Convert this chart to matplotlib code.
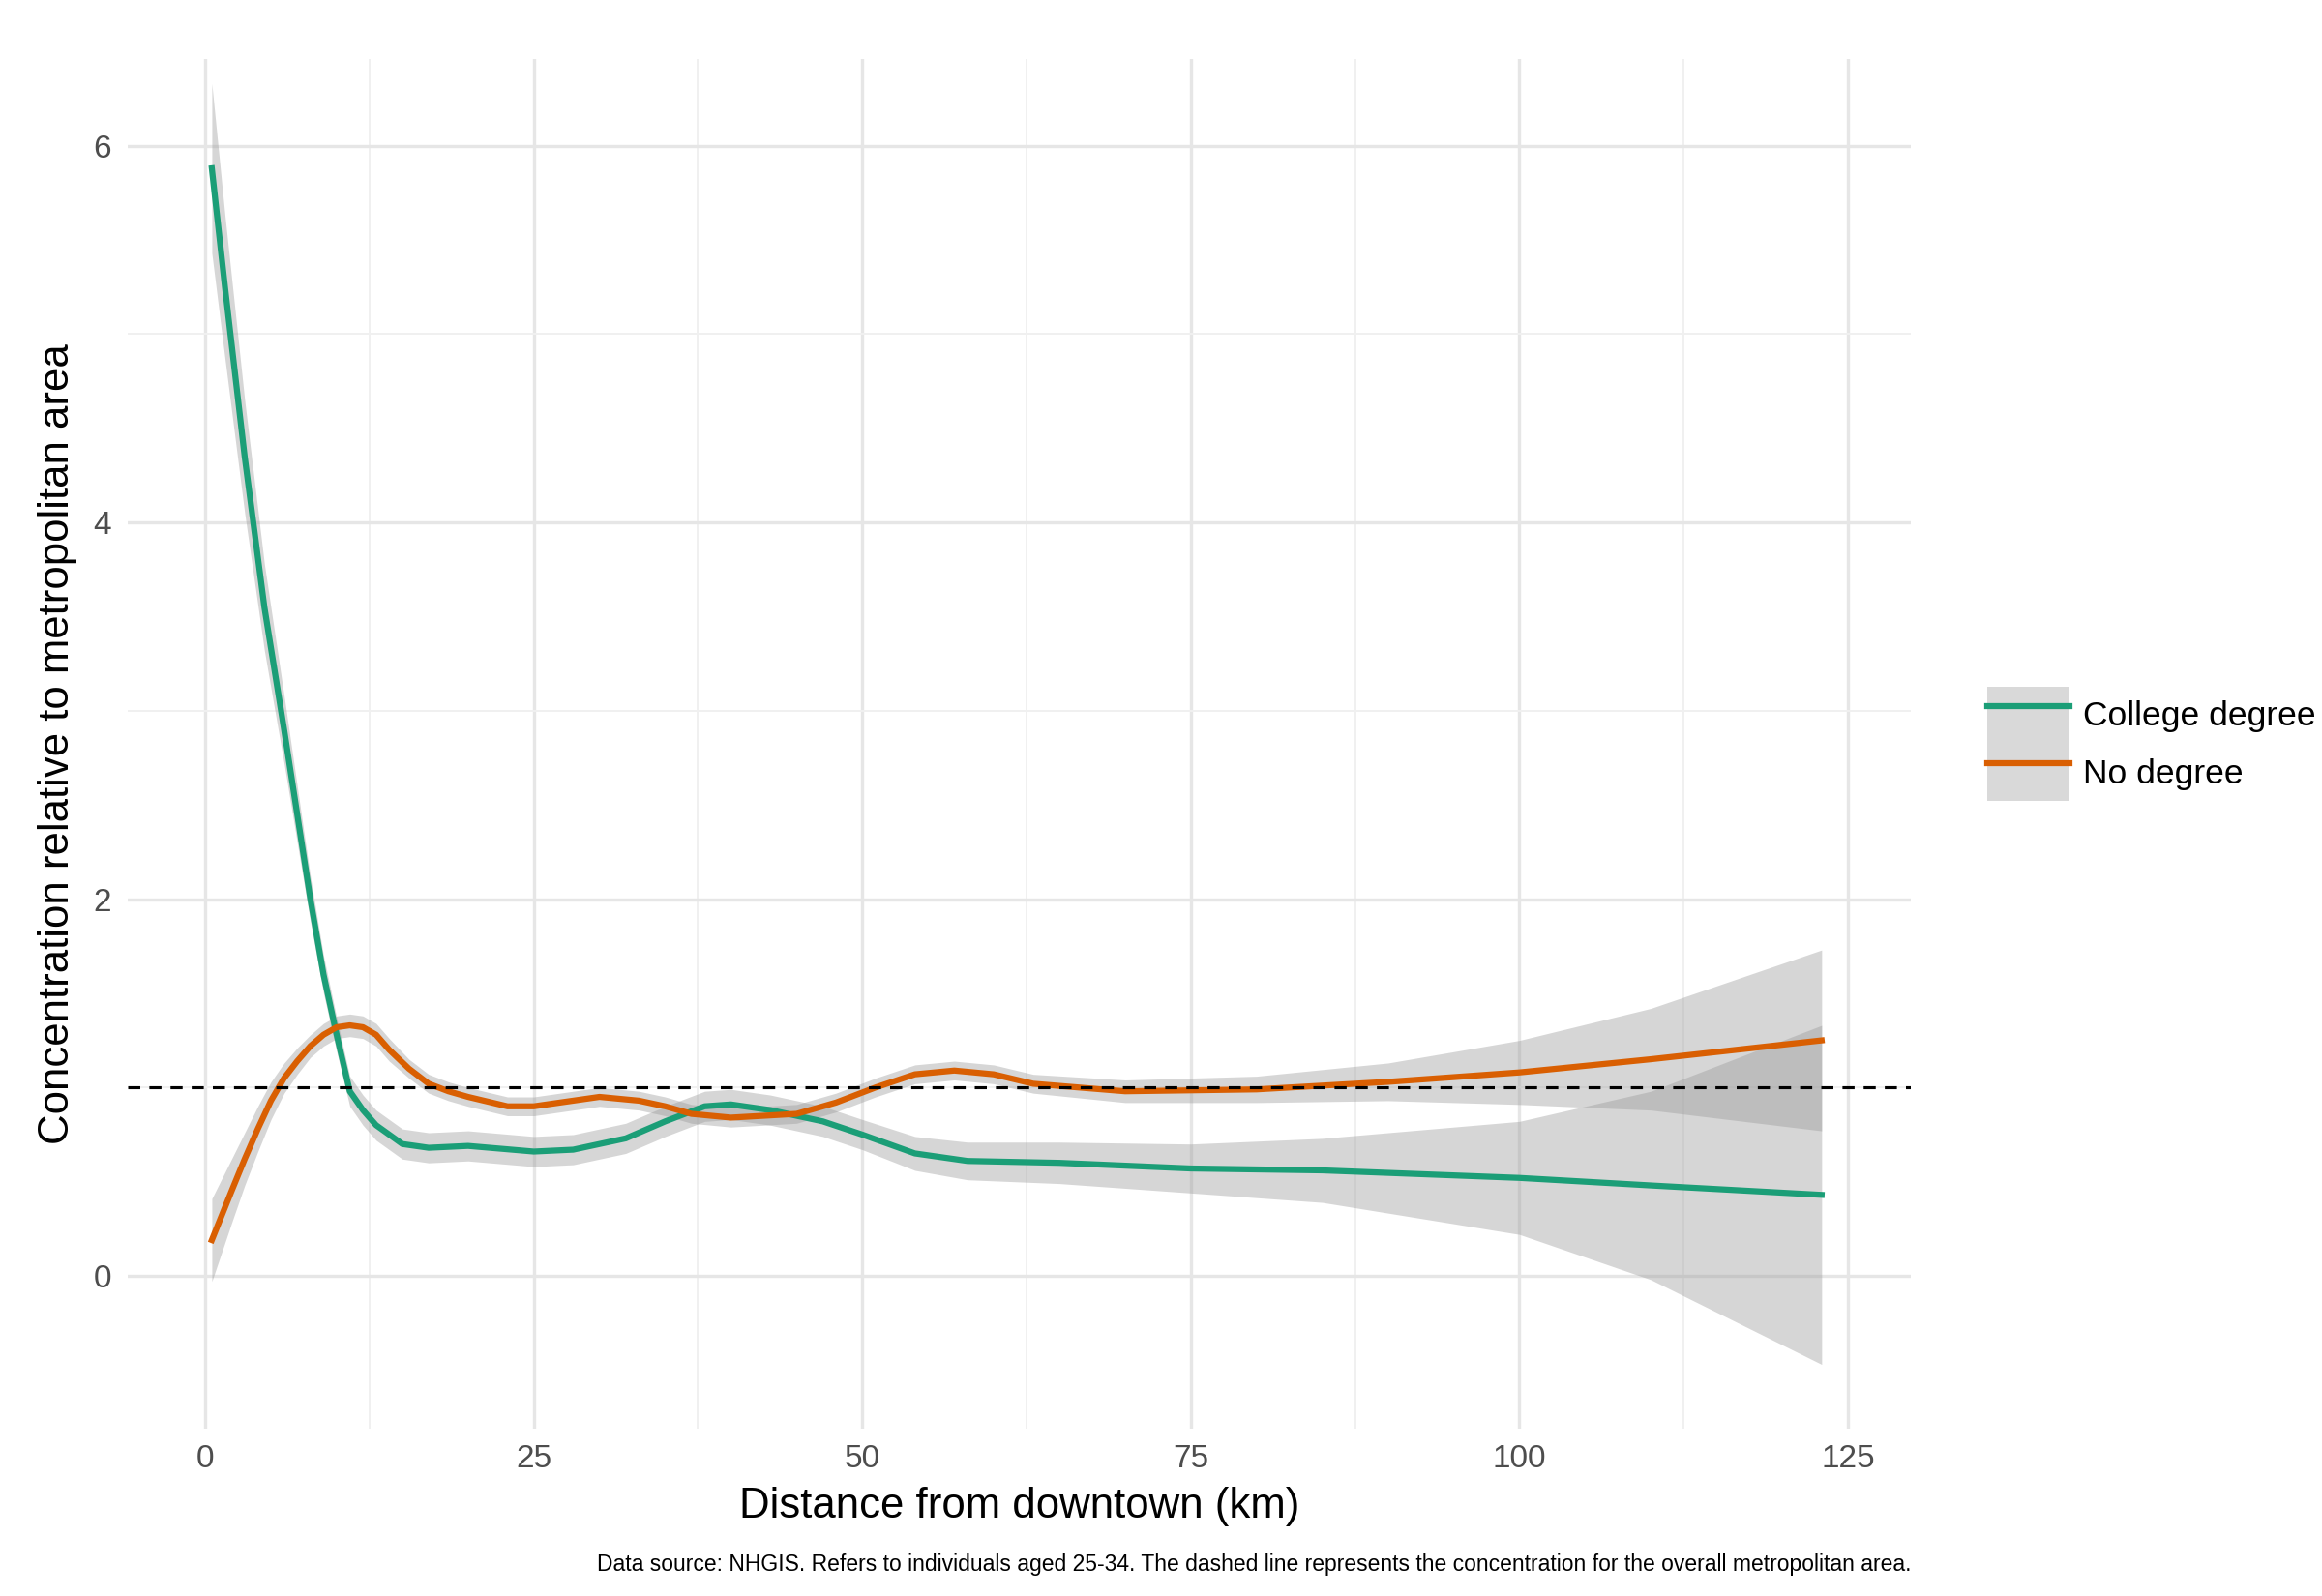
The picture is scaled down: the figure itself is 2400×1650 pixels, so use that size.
import numpy as np
import matplotlib.pyplot as plt
from matplotlib.patches import Patch
from matplotlib.lines import Line2D

plt.rcParams['font.family'] = ['Liberation Sans', 'DejaVu Sans']

# college degree smooth
col_x = [0.5, 1.5, 3, 4.5, 6, 7, 8, 9, 10, 11, 12, 13, 15, 17, 20, 25, 28, 32, 35, 38, 40, 43, 47, 50, 54, 58, 65, 75, 85, 100, 110, 123]
col_y = [5.88, 5.25, 4.35, 3.55, 2.9, 2.45, 2.0, 1.6, 1.28, 0.98, 0.88, 0.8, 0.7, 0.68, 0.69, 0.66, 0.67, 0.73, 0.82, 0.9, 0.91, 0.88, 0.82, 0.75, 0.65, 0.61, 0.6, 0.57, 0.56, 0.52, 0.48, 0.43]
col_se = [0.45, 0.38, 0.3, 0.23, 0.18, 0.15, 0.12, 0.1, 0.09, 0.08, 0.08, 0.08, 0.08, 0.08, 0.08, 0.08, 0.08, 0.08, 0.08, 0.08, 0.08, 0.08, 0.08, 0.08, 0.09, 0.1, 0.11, 0.13, 0.17, 0.3, 0.5, 0.9]

# no degree smooth
nod_x = [0.5, 2, 3, 4, 5, 6, 7, 8, 9, 10, 11, 12, 13, 14, 15.5, 17, 18.5, 20, 23, 25, 28, 30, 33, 35, 37, 40, 45, 48, 51, 54, 57, 60, 63, 70, 80, 90, 100, 110, 123]
nod_y = [0.19, 0.45, 0.62, 0.78, 0.93, 1.05, 1.14, 1.22, 1.28, 1.32, 1.33, 1.32, 1.28, 1.2, 1.1, 1.02, 0.98, 0.95, 0.9, 0.9, 0.93, 0.95, 0.93, 0.9, 0.86, 0.84, 0.86, 0.92, 1.0, 1.07, 1.09, 1.07, 1.02, 0.98, 0.99, 1.03, 1.08, 1.15, 1.25]
nod_se = [0.22, 0.17, 0.14, 0.12, 0.1, 0.08, 0.07, 0.06, 0.06, 0.06, 0.06, 0.06, 0.06, 0.06, 0.05, 0.05, 0.05, 0.05, 0.05, 0.05, 0.05, 0.05, 0.05, 0.05, 0.05, 0.05, 0.05, 0.05, 0.05, 0.05, 0.05, 0.05, 0.05, 0.06, 0.07, 0.1, 0.17, 0.27, 0.48]

GREEN = '#1B9E77'
ORANGE = '#D95F02'

fig, ax = plt.subplots(figsize=(16, 11), dpi=150)
fig.subplots_adjust(left=0.055, right=0.823, top=0.963, bottom=0.105)

for xs, ys, se in [(col_x, col_y, col_se), (nod_x, nod_y, nod_se)]:
    xs, ys, se = np.array(xs), np.array(ys), np.array(se)
    ax.fill_between(xs, ys - se, ys + se, color='#999999', alpha=0.4, lw=0, zorder=2)
ax.plot(col_x, col_y, color=GREEN, lw=3, zorder=3, solid_joinstyle='round')
ax.plot(nod_x, nod_y, color=ORANGE, lw=3, zorder=3, solid_joinstyle='round')
ax.axhline(1, color='black', ls=(0, (4, 3)), lw=1.5, zorder=4)

ax.set_xlim(-5.9, 129.8)
ax.set_ylim(-0.81, 6.46)
ax.set_xticks([0, 25, 50, 75, 100, 125])
ax.set_xticks([12.5, 37.5, 62.5, 87.5, 112.5], minor=True)
ax.set_yticks([0, 2, 4, 6])
ax.set_yticks([1, 3, 5], minor=True)
ax.grid(which='major', color='#e6e6e6', lw=1.6)
ax.grid(which='minor', color='#f0f0f0', lw=0.9)
ax.set_axisbelow(True)
for s in ax.spines.values():
    s.set_visible(False)
ax.tick_params(which='both', length=0, labelsize=16, labelcolor='#4d4d4d', pad=8)
ax.set_xlabel('Distance from downtown (km)', fontsize=21, labelpad=6)
ax.set_ylabel('Concentration relative to metropolitan area', fontsize=21, labelpad=8)

handles = [(Patch(facecolor='#d9d9d9', edgecolor='none'), Line2D([], [], color=GREEN, lw=3)),
           (Patch(facecolor='#d9d9d9', edgecolor='none'), Line2D([], [], color=ORANGE, lw=3))]
ax.legend(handles, ['College degree', 'No degree'], loc='center left', bbox_to_anchor=(1.035, 0.5),
          frameon=False, fontsize=17, handlelength=2.4, handleheight=2.2, handletextpad=0.4,
          labelspacing=0.0, borderaxespad=0)

fig.text(0.823, 0.013, 'Data source: NHGIS. Refers to individuals aged 25-34. The dashed line represents the concentration for the overall metropolitan area.',
         ha='right', va='bottom', fontsize=11)
fig.savefig('out.png', dpi=150)
